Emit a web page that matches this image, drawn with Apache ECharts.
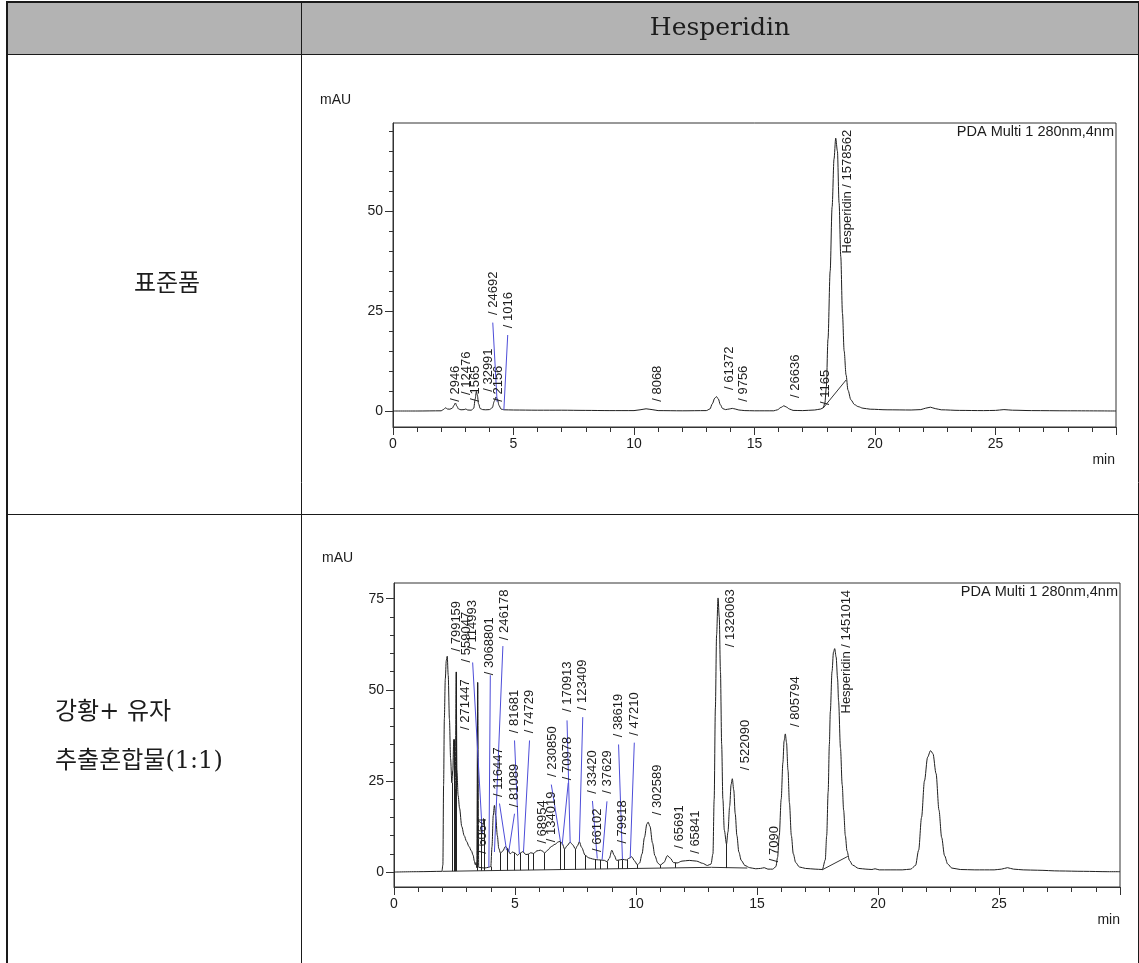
<!DOCTYPE html>
<html>
<head>
<meta charset="utf-8">
<script src="https://cdn.jsdelivr.net/npm/echarts@6/dist/echarts.min.js"></script>
<style>
html,body{margin:0;padding:0;background:#fff;}
#chart{width:1139px;height:963px;}
</style>
</head>
<body>
<div id="chart"></div>
<script>
// ---- Standard (표준품) chromatogram: [time (min), signal (mAU)] ----
const stdTrace = [
[0,0],[1.0,0.0],[2.0,0.05],[2.1,0.4],[2.18,0.8],[2.26,0.5],[2.36,0.45],[2.46,0.7],[2.53,1.4],[2.59,2.0],[2.65,1.2],[2.72,0.5],[2.82,0.3],[2.95,0.35],[3.02,0.5],[3.1,0.25],[3.25,0.2],[3.35,0.7],[3.41,3.0],[3.46,4.9],[3.5,4.0],[3.55,1.8],[3.62,0.6],[3.72,0.35],[3.85,0.3],[4.0,0.35],[4.12,0.8],[4.2,2.4],[4.27,3.5],[4.33,3.0],[4.4,1.4],[4.48,0.5],[4.6,0.3],[5.0,0.25],[6.0,0.2],[7.0,0.2],[8.0,0.15],[9.0,0.1],[10.0,0.1],[10.25,0.3],[10.5,0.55],[10.75,0.35],[11.0,0.1],[12.0,0.05],[13.0,0.1],[13.15,0.5],[13.25,1.8],[13.35,3.2],[13.42,3.6],[13.5,3.0],[13.58,1.6],[13.68,0.6],[13.8,0.35],[13.95,0.5],[14.08,0.65],[14.2,0.5],[14.35,0.25],[14.6,0.1],[15.0,0.05],[15.8,0.05],[15.95,0.3],[16.1,0.9],[16.22,1.3],[16.32,1.0],[16.45,0.5],[16.6,0.15],[17.0,0.1],[17.5,0.25],[17.75,0.5],[17.85,0.8],[17.92,2.0],[17.98,6],[18.05,18],[18.14,35],[18.22,51],[18.3,63],[18.37,68.2],[18.44,65],[18.51,52],[18.58,38.6],[18.65,24.4],[18.72,15],[18.8,9],[18.88,5.2],[19.0,2.8],[19.15,1.6],[19.3,1.1],[19.5,0.7],[19.8,0.45],[20.5,0.3],[21.5,0.25],[21.9,0.35],[22.1,0.7],[22.3,0.95],[22.5,0.6],[22.75,0.3],[23.5,0.15],[24.5,0.1],[25.0,0.15],[25.35,0.35],[25.7,0.2],[26.5,0.1],[28,0.05],[30,0.0]
];
// peak annotations: [time, signal at text start, text]
const stdLabels = [
[2.59,2.3,'/ 2946'],[3.03,4.0,'/ 12476'],[3.42,2.3,'/ 1565'],[3.96,4.8,'/ 32991'],[4.36,2.3,'/ 2156'],
[4.15,24,'/ 24692'],[4.8,20.7,'/ 1016'],[10.97,2.3,'/ 8068'],[13.94,5.25,'/ 61372'],[14.52,2.3,'/ 9756'],
[16.68,3.25,'/ 26636'],[17.96,1.5,'/ 1165'],[18.86,39.4,'Hesperidin / 1578562']
];
// label leader lines: [t1, v1, t2, v2]
const stdLeaders = [[4.14,22.1,4.32,2.3],[4.76,19,4.6,0.25]];
// integration baselines: [t1, v1, t2, v2]
const stdBaselines = [[17.85,0.75,18.8,7.75]];

// ---- Mixed extract (강황+유자) chromatogram ----
const mixTrace = [
[0,0.0],[1.0,0.1],[1.98,0.2],[2.02,2.0],[2.05,24],[2.08,42],[2.12,53],[2.16,58],[2.2,59.2],[2.24,54],[2.29,42],[2.34,31],[2.39,24.5],[2.43,28],[2.47,36.4],[2.5,25],[2.53,23],[2.57,54.9],[2.6,28],[2.65,21],[2.71,17.5],[2.8,12.5],[2.9,10],[3.0,8.4],[3.1,7.0],[3.2,5.8],[3.27,4.6],[3.32,3.0],[3.36,2.0],[3.39,2.6],[3.42,1.2],[3.46,52.0],[3.5,1.3],[3.6,1.2],[3.75,1.1],[3.9,1.3],[4.0,1.5],[4.05,7],[4.1,15.5],[4.15,18.3],[4.2,15.5],[4.27,10],[4.33,6.5],[4.4,5.2],[4.5,5.8],[4.6,7.0],[4.68,6.6],[4.8,5.0],[4.9,5.5],[5.0,5.2],[5.1,4.6],[5.22,5.2],[5.32,5.6],[5.45,4.8],[5.55,4.9],[5.65,5.3],[5.77,5.1],[5.9,5.8],[6.05,6.0],[6.15,5.7],[6.22,5.2],[6.35,6.0],[6.5,7.0],[6.65,7.6],[6.8,8.3],[6.88,8.4],[6.95,7.8],[7.05,6.3],[7.15,7.2],[7.28,8.2],[7.38,7.5],[7.5,6.3],[7.58,7.2],[7.66,8.3],[7.75,6.8],[7.9,4.6],[8.05,3.9],[8.2,3.6],[8.35,3.4],[8.55,3.3],[8.7,3.2],[8.8,2.8],[8.9,3.8],[9.0,6.0],[9.1,4.6],[9.2,3.2],[9.3,3.3],[9.45,3.5],[9.6,3.3],[9.72,3.8],[9.82,4.2],[9.95,3.0],[10.05,2.0],[10.15,2.5],[10.25,5.0],[10.35,9.5],[10.45,13.2],[10.5,13.7],[10.58,12.5],[10.68,8.0],[10.78,4.5],[10.9,2.5],[11.0,1.9],[11.15,2.6],[11.3,4.5],[11.42,3.8],[11.55,2.6],[11.7,2.5],[11.9,3.0],[12.2,3.2],[12.5,3.0],[12.75,2.4],[12.95,1.8],[13.1,2.2],[13.18,5],[13.23,20],[13.28,45],[13.33,65],[13.39,75.2],[13.44,70],[13.49,55],[13.54,35],[13.59,20],[13.65,11.5],[13.74,7.7],[13.8,11],[13.87,18],[13.93,24],[13.98,25.6],[14.04,22.5],[14.1,16],[14.17,10],[14.25,5.5],[14.35,3.2],[14.5,1.8],[14.7,1.2],[14.95,0.9],[15.15,1.0],[15.3,1.2],[15.45,0.8],[15.65,0.8],[15.78,1.5],[15.85,4],[15.92,10],[16.0,20],[16.07,30],[16.12,36],[16.17,37.9],[16.22,35.5],[16.28,28],[16.34,19],[16.42,10],[16.5,5],[16.6,2.6],[16.75,1.4],[17.0,1.0],[17.4,0.8],[17.7,0.7],[17.82,3.3],[17.88,10],[17.94,22],[17.99,35],[18.03,44],[18.1,55],[18.16,60.3],[18.21,61.3],[18.27,59],[18.33,53],[18.37,47],[18.45,34],[18.52,24],[18.58,17],[18.65,10],[18.72,5.8],[18.82,3.2],[18.95,1.9],[19.2,1.0],[19.5,0.8],[19.75,0.7],[19.88,0.9],[20.05,0.6],[20.5,0.6],[21.0,0.6],[21.35,0.8],[21.55,1.8],[21.68,6],[21.8,15],[21.92,25],[22.05,31.5],[22.17,33.3],[22.27,32.5],[22.4,27],[22.52,17],[22.63,9.5],[22.75,4.5],[22.88,2.2],[23.05,1.1],[23.4,0.7],[24.0,0.6],[24.8,0.6],[25.1,0.8],[25.35,1.2],[25.6,0.8],[26.0,0.6],[26.6,0.5],[27.5,0.3],[28.5,0.2],[29.5,0.1],[30,0.1]
];
const mixLabels = [
[2.6,60.5,'/ 799159'],[3.0,57.5,'/ 559047'],[3.22,61,'/ 114993'],[2.97,39,'/ 271447'],
[3.95,54,'/ 3068801'],[4.56,63.6,'/ 246178'],[3.67,5.0,'/ 6064'],[4.33,20.6,'/ 116447'],
[4.98,17.8,'/ 81089'],[4.98,38.1,'/ 81681'],[5.6,38.1,'/ 74729'],[6.12,7.8,'/ 68954'],
[6.5,8.2,'/ 134019'],[6.53,26.1,'/ 230850'],[7.18,25.2,'/ 70978'],[7.18,43.9,'/ 170913'],
[7.8,44.4,'/ 123409'],[8.18,21.5,'/ 33420'],[8.83,21.5,'/ 37629'],[8.41,5.5,'/ 66102'],
[9.28,37,'/ 38619'],[9.93,37.4,'/ 47210'],[9.44,7.8,'/ 79918'],[10.89,15.6,'/ 302589'],
[11.78,6.4,'/ 65691'],[12.47,5.0,'/ 65841'],[13.92,61.7,'/ 1326063'],[14.53,27.9,'/ 522090'],
[15.7,2.7,'/ 7090'],[16.6,39.8,'/ 805794'],[18.69,43.5,'Hesperidin / 1451014']
];
const mixLeaders = [
[3.25,57.5,3.65,10.5],[3.98,54,3.92,1.3],[4.5,62,4.15,5.5],[4.36,18.8,4.65,6.0],
[4.98,36.1,5.18,5.0],[4.98,16,4.74,5.5],[5.6,36.1,5.35,5.5],[6.5,24,6.88,8.3],
[7.2,24.5,6.95,7.5],[7.15,41.6,7.28,8.0],[7.8,42.5,7.66,8.2],[8.2,19.5,8.4,3.7],
[8.8,19.4,8.6,3.4],[9.28,35,9.44,3.5],[9.93,35.5,9.76,3.8]
];
// peak-boundary drop lines: [time, baseline, signal]
const mixDrops = [
[2.39,0.24,24.5],[2.47,0.25,36.4],[2.53,0.25,23],[2.57,0.26,54.9],[3.46,0.35,52.0],[3.62,0.36,14.5],
[3.73,0.37,14.5],[4.0,0.4,1.5],[4.4,0.44,5.2],[4.7,0.47,6.3],[4.98,0.5,5.2],[5.22,0.52,5.2],
[5.53,0.55,4.9],[5.77,0.58,5.1],[6.22,0.62,5.2],[6.87,0.69,8.4],[7.05,0.7,6.3],[7.5,0.75,6.3],
[7.9,0.79,4.6],[8.32,0.83,3.4],[8.53,0.85,3.3],[8.8,0.88,2.8],[9.27,0.93,3.2],[9.44,0.94,3.5],
[9.65,0.97,3.4],[10.05,1.0,2.0],[11.0,1.1,1.9],[11.62,1.16,2.5],[13.74,1.1,7.7]
];
const mixBaselines = [[2.0,0.2,13.12,1.3],[13.12,1.3,14.6,1.1],[17.69,0.6,18.75,4.3]];

// axis ticks
const timeRange = [0, 30];
const stdSignalRange = [-4, 72];
const mixSignalRange = [-4.1, 79.3];
const stdMajorTicks = [0, 25, 50];
const stdMinorTicks = [0,5,10,15,20,25,30,35,40,45,50,55,60,65,70];
const mixMajorTicks = [0, 25, 50, 75];
const mixMinorTicks = [0,5,10,15,20,25,30,35,40,45,50,55,60,65,70,75];

const AXIS = '#333';
const TEXT = '#1c1c1c';
const LEADER = '#4d4dd9';
const SANS = '"Liberation Sans", Arial, sans-serif';

function xAxisFor(gridIndex) {
  return {
    type: 'value', gridIndex, min: timeRange[0], max: timeRange[1], interval: 5,
    axisLine: { show: true, onZero: false, lineStyle: { color: AXIS, width: 1 } },
    axisTick: { show: true, length: 8, lineStyle: { color: AXIS } },
    minorTick: { show: true, splitNumber: 5, length: 5, lineStyle: { color: AXIS } },
    axisLabel: { show: true, margin: 10, color: TEXT, fontSize: 14, fontFamily: SANS, showMaxLabel: false },
    splitLine: { show: false }, minorSplitLine: { show: false }
  };
}
function yAxesFor(gridIndex, range, major, minor) {
  return [{
    type: 'value', gridIndex, min: range[0], max: range[1], position: 'left',
    axisLine: { show: true, onZero: false, lineStyle: { color: AXIS } },
    axisTick: { show: true, length: 8, customValues: major, lineStyle: { color: AXIS } },
    axisLabel: { show: true, customValues: major, margin: 10, color: TEXT, fontSize: 14, fontFamily: SANS },
    splitLine: { show: false }
  }, {
    type: 'value', gridIndex, min: range[0], max: range[1], position: 'left',
    axisLine: { show: false, onZero: false },
    axisTick: { show: true, length: 4, customValues: minor, lineStyle: { color: AXIS } },
    axisLabel: { show: false },
    splitLine: { show: false }
  }];
}

function traceSeries(xi, yi, data) {
  return {
    type: 'line', xAxisIndex: xi, yAxisIndex: yi, data, showSymbol: false, symbol: 'none',
    smooth: 0.3, smoothMonotone: 'x', silent: true, z: 3,
    lineStyle: { color: '#1f1f1f', width: 1 }
  };
}
function segmentSeries(xi, yi, segs, color, z) {
  return {
    type: 'lines', coordinateSystem: 'cartesian2d', xAxisIndex: xi, yAxisIndex: yi, silent: true, z,
    lineStyle: { color, width: 1, opacity: 1, curveness: 0 },
    data: segs.map(s => ({ coords: [[s[0], s[1]], [s[2], s[3]]] }))
  };
}
function dropSeries(xi, yi, drops) {
  return segmentSeries(xi, yi, drops.map(d => [d[0], d[1], d[0], d[2]]), '#222', 3);
}
function labelSeries(xi, yi, labels) {
  return {
    type: 'custom', coordinateSystem: 'cartesian2d', xAxisIndex: xi, yAxisIndex: yi, silent: true, z: 5,
    data: labels.map(l => [l[0], l[1]]),
    renderItem(params, api) {
      const p = api.coord([api.value(0), api.value(1)]);
      return {
        type: 'text', x: p[0], y: p[1], rotation: Math.PI / 2,
        style: {
          text: labels[params.dataIndex][2], fill: TEXT, fontSize: 13, fontFamily: SANS,
          align: 'left', verticalAlign: 'middle', textAlign: 'left', textVerticalAlign: 'middle'
        }
      };
    }
  };
}
function txt(x, y, text, size, family, align, extra) {
  return Object.assign({
    type: 'text', x, y, silent: true,
    style: { text, fontSize: size, fontFamily: family, fill: TEXT,
      align, verticalAlign: 'middle', textAlign: align, textVerticalAlign: 'middle' }
  }, extra || {});
}
function hline(x1, x2, y, w) {
  return { type: 'line', silent: true, shape: { x1, y1: y, x2, y2: y }, style: { stroke: '#1a1a1a', lineWidth: w } };
}
function vline(x, y1, y2, w) {
  return { type: 'line', silent: true, shape: { x1: x, y1, x2: x, y2 }, style: { stroke: '#1a1a1a', lineWidth: w } };
}

const SERIF = '"DejaVu Serif", "Noto Sans CJK KR", serif';
const option = {
  animation: false,
  backgroundColor: '#fff',
  grid: [
    { left: 393, top: 123, width: 723, height: 304, show: true, borderColor: AXIS, borderWidth: 1, backgroundColor: 'transparent' },
    { left: 394, top: 583, width: 726, height: 304, show: true, borderColor: AXIS, borderWidth: 1, backgroundColor: 'transparent' }
  ],
  xAxis: [xAxisFor(0), xAxisFor(1)],
  yAxis: [].concat(
    yAxesFor(0, stdSignalRange, stdMajorTicks, stdMinorTicks),
    yAxesFor(1, mixSignalRange, mixMajorTicks, mixMinorTicks)
  ),
  graphic: [
    // table frame
    { type: 'rect', silent: true, shape: { x: 7, y: 2, width: 1132, height: 52 }, style: { fill: '#b3b3b3' } },
    hline(6, 1139, 2, 2),
    hline(7, 1139, 54.5, 1),
    hline(7, 1139, 514.5, 1),
    vline(7, 1, 963, 2),
    vline(301.5, 2, 963, 1),
    vline(1138.5, 2, 963, 1),
    txt(720, 28, 'Hesperidin', 25, SERIF, 'center'),
    txt(167, 285, '표준품', 24, SERIF, 'center'),
    txt(55, 713, '강황+ 유자', 24, SERIF, 'left'),
    txt(55, 762, '추출혼합물(1:1)', 24, SERIF, 'left'),
    // chart captions
    txt(320, 100, 'mAU', 14, SANS, 'left'),
    txt(1115, 460, 'min', 14, SANS, 'right'),
    txt(1114, 132, 'PDA Multi 1 280nm,4nm', 14.5, SANS, 'right'),
    txt(322, 558, 'mAU', 14, SANS, 'left'),
    txt(1120, 920, 'min', 14, SANS, 'right'),
    txt(1118, 592, 'PDA Multi 1 280nm,4nm', 14.5, SANS, 'right')
  ],
  series: [
    traceSeries(0, 0, stdTrace),
    segmentSeries(0, 0, stdBaselines, '#333', 3),
    segmentSeries(0, 0, stdLeaders, LEADER, 4),
    labelSeries(0, 0, stdLabels),
    traceSeries(1, 2, mixTrace),
    segmentSeries(1, 2, mixBaselines, '#333', 3),
    dropSeries(1, 2, mixDrops),
    segmentSeries(1, 2, mixLeaders, LEADER, 4),
    labelSeries(1, 2, mixLabels)
  ]
};

const chart = echarts.init(document.getElementById('chart'), null, { renderer: 'canvas' });
chart.setOption(option);
</script>
</body>
</html>
